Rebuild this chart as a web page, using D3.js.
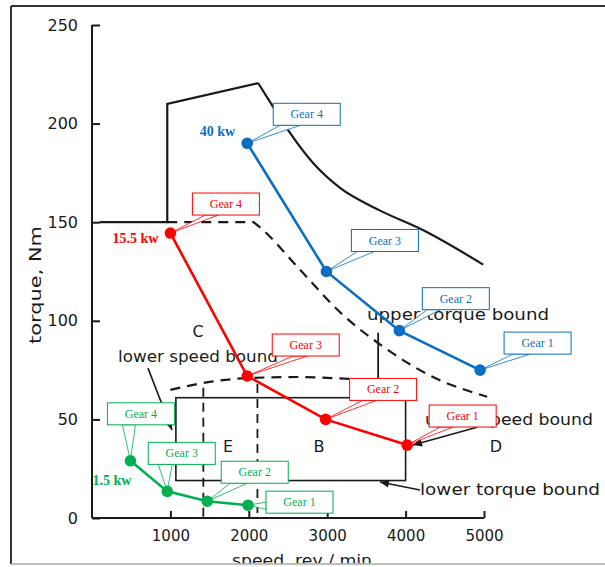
<!DOCTYPE html>
<html><head><meta charset="utf-8">
<script src="https://cdn.jsdelivr.net/npm/d3@7"></script>
<style>html,body{margin:0;padding:0;background:#fff;overflow:hidden}</style>
</head><body>
<script>
// ---------- data ----------
const speedTicks = [1000, 2000, 3000, 4000, 5000];
const torqueTicks = [0, 50, 100, 150, 200, 250];
const gears = ["Gear 4", "Gear 3", "Gear 2", "Gear 1"];

const speed40 = [1980, 2990, 3920, 4950];
const torque40 = [190, 125, 95, 75];
const speed15 = [1000, 1980, 2980, 4020];
const torque15 = [144.5, 72, 50, 37];
const speed1 = [490, 960, 1470, 1990];
const torque1 = [29, 13.5, 8.5, 6.5];
const powerLabels = ["40 kw", "15.5 kw", "1.5 kw"];

// upper torque envelope (solid): straight part, then curved fall-off
const envSpeedA = [100, 960, 960, 2120];
const envTorqueA = [150, 150, 210, 220.5];
const envSpeedB = [2120, 2310, 2530, 2820, 3160, 3670, 4220, 4990];
const envTorqueB = [220.5, 208.5, 195, 180, 167.5, 156, 146, 128.5];
// upper torque bound (dashed)
const upSpeed = [960, 2060, 2140, 2650, 3200, 3710, 4350, 5040];
const upTorque = [150, 150, 147.5, 126, 103, 87, 71.5, 61.5];
// lower speed bound (dashed)
const lowSpeed = [1000, 1500, 2000, 2650, 3300, 3650];
const lowTorque = [65, 69, 71, 71.5, 70.5, 70];
// rectangle region (speed range, torque range)
const rectSpeed = [1070, 4000];
const rectTorque = [19, 61];
// vertical dashed speeds
const vDashSpeed = [1420, 2110];
const vDashTop = [66, 68];
// short solid vertical
const vSolidSpeed = 3650;
const vSolidTorque = [70, 94];

// ---------- layout ----------
const W = 605, H = 567;
const svg = d3.select("body").append("svg").attr("width", W).attr("height", H)
  .style("font-family", "'DejaVu Sans', sans-serif");
const x = d3.scaleLinear().domain([0, 5000]).range([92, 484]);
const y = d3.scaleLinear().domain([0, 250]).range([518, 25]);
const col = { blue: "#0a6fc2", red: "#ff0000", green: "#00b050" };
const ink = "#1a1a1a";

// axes
const yAxis = d3.axisLeft(y).tickValues(torqueTicks).tickSize(-8).tickPadding(14).tickFormat(d3.format("d"));
const gy = svg.append("g").attr("transform", `translate(${x(0)},0)`).call(yAxis);
gy.select(".domain").attr("stroke", ink).attr("stroke-width", 2).attr("d", `M0,${y(250)}V${y(0)}`);
gy.selectAll(".tick line").attr("stroke", ink).attr("stroke-width", 2);
gy.selectAll(".tick text").attr("fill", ink).style("font-size", "16px").style("font-family", "'DejaVu Sans', sans-serif");

const xAxis = d3.axisBottom(x).tickValues(speedTicks).tickSize(-7).tickPadding(12).tickFormat(d3.format("d"));
const gx = svg.append("g").attr("transform", `translate(0,${y(0)})`).call(xAxis);
gx.select(".domain").attr("stroke", ink).attr("stroke-width", 2).attr("d", `M${x(0)},0H${x(5000)}`);
gx.selectAll(".tick line").attr("stroke", ink).attr("stroke-width", 2);
gx.selectAll(".tick text").attr("fill", ink).style("font-size", "15px").style("font-family", "'DejaVu Sans', sans-serif");

// axis titles
svg.append("text").attr("transform", `translate(41,${285}) rotate(-90)`).attr("text-anchor", "middle")
  .attr("fill", ink).style("font-size", "15px").attr("textLength", 118).attr("lengthAdjust", "spacingAndGlyphs")
  .text("torque, Nm");
svg.append("text").attr("x", 302).attr("y", 566).attr("text-anchor", "middle")
  .attr("fill", ink).style("font-size", "16px").attr("textLength", 140).attr("lengthAdjust", "spacingAndGlyphs")
  .text("speed ,rev / min");

const line = d3.line().x(d => x(d[0])).y(d => y(d[1]));
const smooth = d3.line().x(d => x(d[0])).y(d => y(d[1])).curve(d3.curveMonotoneX);
const zip = (a, b) => a.map((v, i) => [v, b[i]]);

// black curves
svg.append("path").attr("d", line(zip(envSpeedA, envTorqueA))).attr("fill", "none")
  .attr("stroke", ink).attr("stroke-width", 2.2).attr("stroke-linejoin", "miter");
svg.append("path").attr("d", smooth(zip(envSpeedB, envTorqueB))).attr("fill", "none")
  .attr("stroke", ink).attr("stroke-width", 2.2);
svg.append("path").attr("d", line(zip(upSpeed.slice(0, 2), upTorque.slice(0, 2))) + smooth(zip(upSpeed.slice(1), upTorque.slice(1))).replace(/^M[^LC]*/, "")).attr("fill", "none")
  .attr("stroke", ink).attr("stroke-width", 2.2).attr("stroke-dasharray", "10,7");
svg.append("path").attr("d", smooth(zip(lowSpeed, lowTorque))).attr("fill", "none")
  .attr("stroke", ink).attr("stroke-width", 2.2).attr("stroke-dasharray", "10,7");
svg.append("rect").attr("x", x(rectSpeed[0])).attr("y", y(rectTorque[1]))
  .attr("width", x(rectSpeed[1]) - x(rectSpeed[0])).attr("height", y(rectTorque[0]) - y(rectTorque[1]))
  .attr("fill", "none").attr("stroke", ink).attr("stroke-width", 1.6);
vDashSpeed.forEach((s, i) => {
  svg.append("line").attr("x1", x(s)).attr("x2", x(s)).attr("y1", y(vDashTop[i])).attr("y2", y(0))
    .attr("stroke", ink).attr("stroke-width", 1.8).attr("stroke-dasharray", "9,6");
});
svg.append("line").attr("x1", x(vSolidSpeed)).attr("x2", x(vSolidSpeed))
  .attr("y1", y(vSolidTorque[0])).attr("y2", y(vSolidTorque[1])).attr("stroke", ink).attr("stroke-width", 1.8);

// text annotations (data coordinates)
const notes = [
  { t: "lower speed bound", s: 332, v: 79, len: 160 },
  { t: "upper torque bound", s: 3508, v: 100.4, len: 182 },
  { t: "upper speed bound", s: 4247, v: 47.2, len: 168 },
  { t: "lower torque bound", s: 4184, v: 11.7, len: 180 }
];
notes.forEach(n => svg.append("text").attr("x", x(n.s)).attr("y", y(n.v)).attr("fill", ink)
  .style("font-size", "16px").attr("textLength", n.len).attr("lengthAdjust", "spacingAndGlyphs").text(n.t));
const letters = [["C", 1352, 91.8], ["E", 1735, 33.5], ["B", 2895, 33.5], ["D", 5153, 33.5]];
letters.forEach(l => svg.append("text").attr("x", x(l[1])).attr("y", y(l[2])).attr("text-anchor", "middle")
  .attr("fill", ink).style("font-size", "16px").text(l[0]));

// pointer lines with arrow heads
const pointers = [
  [[714, 76], [1020, 44.6]],
  [[4911, 46], [4094, 37]],
  [[4184, 14.2], [3673, 18.3]]
];
pointers.forEach(p => {
  const [a, b] = p;
  const x1 = x(a[0]), y1 = y(a[1]), x2 = x(b[0]), y2 = y(b[1]);
  svg.append("line").attr("x1", x1).attr("y1", y1).attr("x2", x2).attr("y2", y2)
    .attr("stroke", ink).attr("stroke-width", 1.6);
  const ang = Math.atan2(y2 - y1, x2 - x1);
  const L = 9, w = 4;
  const bx = x2 - L * Math.cos(ang), by = y2 - L * Math.sin(ang);
  svg.append("path").attr("d", `M${x2},${y2}L${bx - w * Math.sin(ang)},${by + w * Math.cos(ang)}L${bx + w * Math.sin(ang)},${by - w * Math.cos(ang)}Z`)
    .attr("fill", ink);
});

// series
const series = [
  { sp: speed40, tq: torque40, c: col.blue, label: powerLabels[0], lab: [-12, -7, "end"],
    call: [[26, -40, "b", 7, 27], [25, -42, "b", 6, 23], [23, -43, "b", 5, 18], [24, -38, "b", 9, 26]] },
  { sp: speed15, tq: torque15, c: col.red, label: powerLabels[1], lab: [-12, 10, "end"],
    call: [[22, -40, "b", 13, 26], [25, -42, "b", 21, 35], [24, -41, "b", 13, 27], [22, -40, "b", 11, 24]] },
  { sp: speed1, tq: torque1, c: col.green, label: powerLabels[2], lab: [-38, 24, "start"],
    call: [[-23, -58, "b", 15, 28], [-19, -49, "b", 10, 24], [14, -40, "b", 9, 26], [18, -14, "l", 11, 18]] }
];
const BW = 67, BH = 22;
series.forEach(s => {
  const pts = zip(s.sp, s.tq);
  svg.append("path").attr("d", line(pts)).attr("fill", "none").attr("stroke", s.c).attr("stroke-width", 2.6);
});
series.forEach(s => {
  const pts = zip(s.sp, s.tq);
  pts.forEach((p, i) => {
    const px = x(p[0]), py = y(p[1]);
    const [dx, dy, side, b0, b1] = s.call[i];
    const bx = px + dx, by = py + dy;
    let a, b;
    if (side === "b") { a = [bx + b0, by + BH]; b = [bx + b1, by + BH]; }
    else { a = [bx, by + b0]; b = [bx, by + b1]; }
    svg.append("path").attr("d", `M${px},${py}L${a[0]},${a[1]}L${b[0]},${b[1]}Z`)
      .attr("fill", "#fff").attr("stroke", s.c).attr("stroke-width", 0.8);
    svg.append("rect").attr("x", bx).attr("y", by).attr("width", BW).attr("height", BH)
      .attr("fill", "#fff").attr("stroke", s.c).attr("stroke-width", 1);
    svg.append("text").attr("x", bx + BW / 2).attr("y", by + BH / 2 + 4).attr("text-anchor", "middle")
      .attr("fill", s.c).style("font-family", "'Liberation Serif', serif").style("font-size", "12px").text(gears[i]);
  });
});
series.forEach(s => {
  const pts = zip(s.sp, s.tq);
  svg.selectAll(null).data(pts).enter().append("circle")
    .attr("cx", d => x(d[0])).attr("cy", d => y(d[1])).attr("r", 5.8).attr("fill", s.c);
  const p0 = pts[0];
  svg.append("text").attr("x", x(p0[0]) + s.lab[0]).attr("y", y(p0[1]) + s.lab[1]).attr("text-anchor", s.lab[2])
    .attr("fill", s.c).style("font-family", "'Liberation Serif', serif").style("font-weight", "bold")
    .style("font-size", "14px").text(s.label);
});

// frame
svg.append("rect").attr("x", 0).attr("y", 563.5).attr("width", W).attr("height", 4).attr("fill", "#fff");
svg.append("line").attr("x1", 11).attr("x2", W).attr("y1", 6).attr("y2", 6).attr("stroke", "#333").attr("stroke-width", 2);
svg.append("line").attr("x1", 11).attr("x2", 11).attr("y1", 6).attr("y2", 564).attr("stroke", "#333").attr("stroke-width", 2);
svg.append("line").attr("x1", 11).attr("x2", W).attr("y1", 564).attr("y2", 564).attr("stroke", "#aaa").attr("stroke-width", 1.5);
</script>
</body></html>
